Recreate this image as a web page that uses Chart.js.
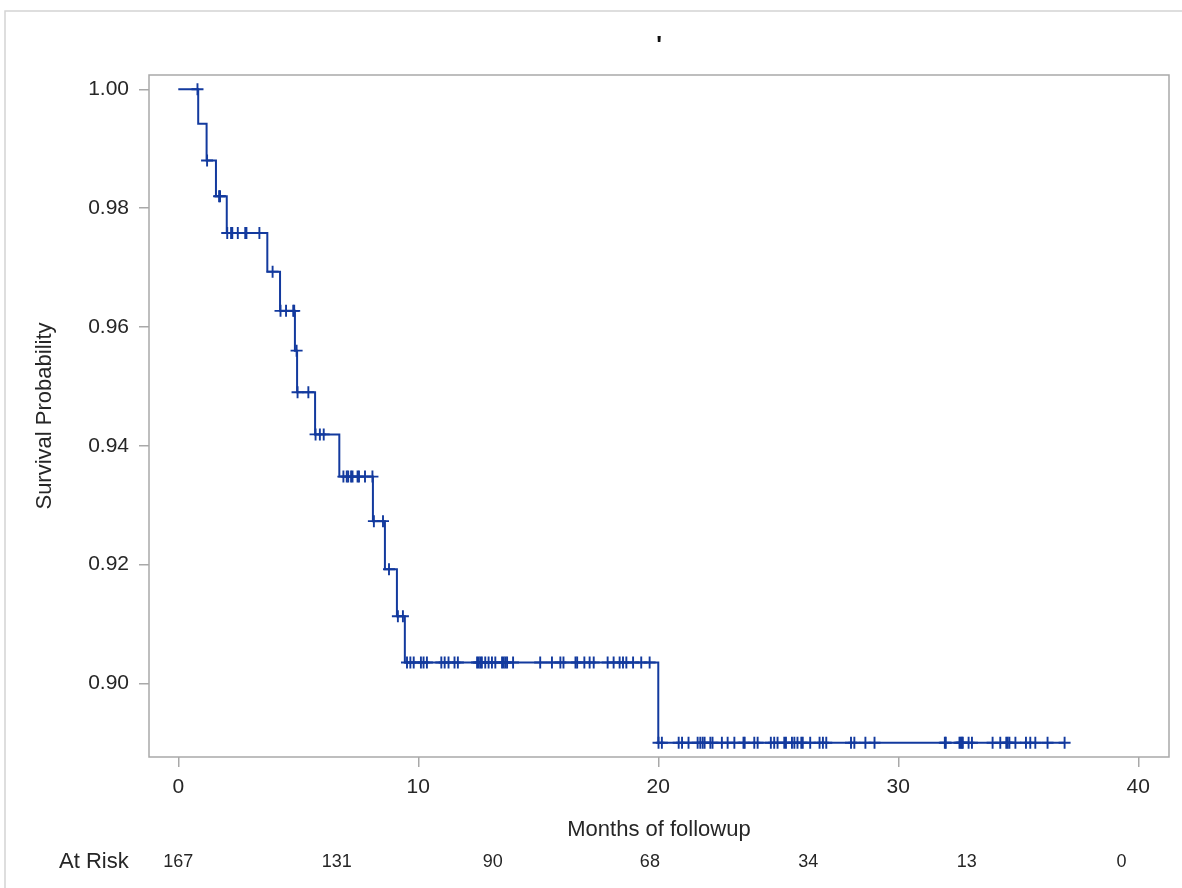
<!DOCTYPE html>
<html>
<head>
<meta charset="utf-8">
<script src="https://cdn.jsdelivr.net/npm/chart.js@4.4.1/dist/chart.umd.min.js"></script>
<style>
  html, body { margin: 0; padding: 0; background: #fff; }
  #wrap { width: 1182px; height: 888px; }
</style>
</head>
<body>
<div id="wrap"><canvas id="kmChart" width="1182" height="888"></canvas></div>
<script>
// Kaplan-Meier estimate
const eventTimes = [0, 0.83, 1.18, 1.57, 2.02, 3.71, 4.24, 4.86, 4.95, 5.70, 6.71, 8.11, 8.61, 9.11, 9.44, 20.0];
const survival   = [1.0, 0.9942, 0.9880, 0.9820, 0.9758, 0.9693, 0.9627, 0.9560, 0.9490, 0.9419, 0.9348, 0.9273, 0.9192, 0.9113, 0.9035, 0.8900];
const lastFollowup = 36.93;

// censored observations (months)
const censorTimes = [
  0.80, 1.20, 1.70, 1.74, 2.04, 2.20, 2.25, 2.48, 2.79, 2.84, 3.38, 3.93,
  4.26, 4.49, 4.79, 4.83, 4.93, 4.97, 5.42, 5.72, 5.90, 6.06,
  6.88, 7.02, 7.08, 7.20, 7.26, 7.47, 7.53, 7.78, 8.09, 8.15, 8.53, 8.78, 9.15, 9.36,
  9.53, 9.67, 9.81, 10.11, 10.22, 10.36, 10.96, 11.10, 11.26, 11.51, 11.65,
  12.45, 12.52, 12.59, 12.65, 12.79, 12.93, 13.07, 13.21, 13.49, 13.56, 13.63, 13.70, 13.95,
  15.08, 15.57, 15.92, 16.05, 16.55, 16.62, 16.92, 17.14, 17.31, 17.89, 18.14, 18.39,
  18.53, 18.67, 18.95, 19.29, 19.64,
  20.01, 20.15, 20.85, 20.99, 21.26, 21.64, 21.75, 21.85, 21.93, 22.17, 22.26, 22.65,
  22.89, 23.17, 23.55, 23.60, 24.00, 24.14, 24.69, 24.83, 24.97, 25.25, 25.32, 25.57,
  25.67, 25.80, 25.96, 26.02, 26.33, 26.72, 26.86, 27.00, 28.03, 28.17, 28.63, 29.01,
  31.94, 31.98, 32.55, 32.60, 32.65, 32.69, 32.93, 33.07, 33.93, 34.25, 34.50, 34.56,
  34.63, 34.88, 35.32, 35.50, 35.71, 36.22, 36.93
];

// numbers at risk row
const riskTimes  = [0, 6.6, 13.1, 19.65, 26.25, 32.85, 39.3];
const riskCounts = [167, 131, 90, 68, 34, 13, 0];

const xTicks = [0, 10, 20, 30, 40];
const yTicks = [0.90, 0.92, 0.94, 0.96, 0.98, 1.00];

const blue = '#133a9e';
const frameGray = '#a9a9a9';
const textColor = '#262626';
const fontFamily = '"Liberation Sans", Arial, sans-serif';

function survivalAt(t) {
  let s = survival[0];
  for (let i = 0; i < eventTimes.length; i++) {
    if (eventTimes[i] <= t) s = survival[i];
  }
  return s;
}

const curvePoints = eventTimes.map((t, i) => ({ x: t, y: survival[i] }));
curvePoints.push({ x: lastFollowup, y: survival[survival.length - 1] });
const censorPoints = censorTimes.map(t => ({ x: t, y: survivalAt(t) }));

const extras = {
  id: 'extras',
  beforeDraw(chart) {
    const ctx = chart.ctx;
    ctx.save();
    ctx.strokeStyle = '#d4d4d4';
    ctx.lineWidth = 1.5;
    ctx.beginPath();
    ctx.moveTo(5, 888);
    ctx.lineTo(5, 11);
    ctx.lineTo(1182, 11);
    ctx.stroke();
    ctx.restore();
  },
  beforeDatasetsDraw(chart) {
    const { ctx, chartArea: a } = chart;
    ctx.save();
    ctx.strokeStyle = frameGray;
    ctx.lineWidth = 1.5;
    ctx.strokeRect(a.left, a.top, a.right - a.left, a.bottom - a.top);
    ctx.restore();
  },
  afterDraw(chart) {
    const { ctx, chartArea: a } = chart;
    const xs = chart.scales.x;
    ctx.save();
    // title mark
    ctx.fillStyle = '#111';
    ctx.font = 'bold 24px ' + fontFamily;
    ctx.textAlign = 'center';
    ctx.textBaseline = 'top';
    ctx.fillText("'", (a.left + a.right) / 2, 34);
    // at risk row
    ctx.fillStyle = textColor;
    ctx.textBaseline = 'middle';
    ctx.textAlign = 'left';
    ctx.font = '22px ' + fontFamily;
    ctx.fillText('At Risk', 59, 862);
    ctx.textAlign = 'center';
    ctx.font = '18px ' + fontFamily;
    riskTimes.forEach((t, i) => {
      ctx.fillText(String(riskCounts[i]), xs.getPixelForValue(t), 862);
    });
    ctx.restore();
  }
};

const ctx = document.getElementById('kmChart').getContext('2d');
const chart = new Chart(ctx, {
  type: 'line',
  data: {
    datasets: [
      {
        label: 'Survival',
        data: curvePoints,
        stepped: 'before',
        borderColor: blue,
        borderWidth: 2,
        pointRadius: 0,
        fill: false
      },
      {
        type: 'scatter',
        label: 'Censored',
        data: censorPoints,
        showLine: false,
        pointStyle: 'cross',
        pointRadius: 6,
        pointBorderWidth: 1.9,
        borderColor: blue,
        backgroundColor: blue
      }
    ]
  },
  options: {
    responsive: false,
    animation: false,
    layout: { padding: { left: 0, top: 75, right: 13, bottom: 41 } },
    plugins: {
      legend: { display: false },
      tooltip: { enabled: false },
      title: { display: false }
    },
    scales: {
      x: {
        type: 'linear',
        min: -1.22,
        max: 41.28,
        afterFit: s => { s.height = 90; },
        afterBuildTicks: s => { s.ticks = xTicks.map(v => ({ value: v })); },
        grid: { drawOnChartArea: false, drawTicks: true, tickLength: 10, color: frameGray, lineWidth: 1.5 },
        border: { display: false },
        ticks: {
          padding: 8,
          color: textColor,
          font: { family: fontFamily, size: 21 },
          callback: v => String(v)
        },
        title: {
          display: true,
          text: 'Months of followup',
          color: textColor,
          font: { family: fontFamily, size: 22 },
          padding: { top: 0, bottom: 4 }
        }
      },
      y: {
        type: 'linear',
        min: 0.8876,
        max: 1.0024,
        afterFit: s => { s.width = 149; },
        afterBuildTicks: s => { s.ticks = yTicks.map(v => ({ value: v })); },
        grid: { drawOnChartArea: false, drawTicks: true, tickLength: 10, color: frameGray, lineWidth: 1.5 },
        border: { display: false },
        ticks: {
          padding: 10,
          color: textColor,
          font: { family: fontFamily, size: 21 },
          callback: v => v.toFixed(2)
        },
        title: {
          display: true,
          text: 'Survival Probability',
          color: textColor,
          font: { family: fontFamily, size: 22 },
          padding: { top: 32, bottom: 0 }
        }
      }
    }
  },
  plugins: [extras]
});
</script>
</body>
</html>
